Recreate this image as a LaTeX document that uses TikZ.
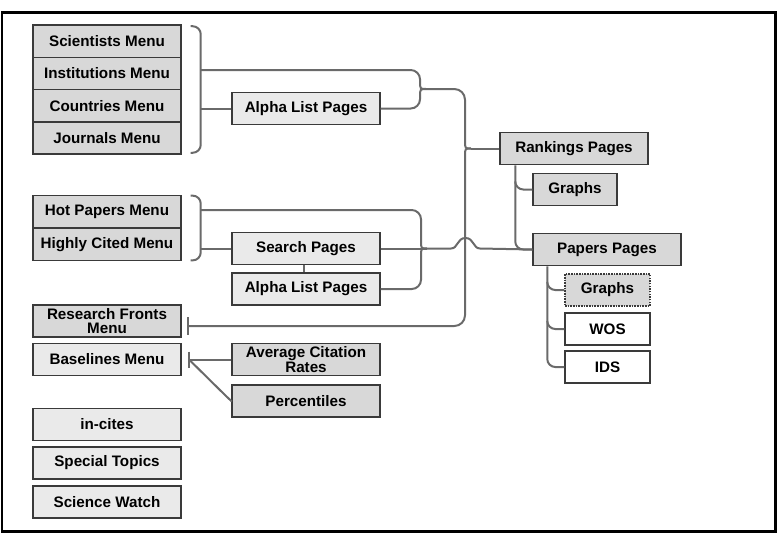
\documentclass[tikz,border=0pt]{standalone}
\usepackage{fontspec}
\setmainfont{Liberation Sans}
\usetikzlibrary{calc}
\definecolor{dfill}{HTML}{D8D8D8}
\definecolor{lfill}{HTML}{EAEAEA}
\definecolor{bline}{HTML}{3A3A3A}
\definecolor{cline}{HTML}{6A6A6A}
\begin{document}
\begin{tikzpicture}[x=0.75pt,y=-0.75pt,
 box/.style={draw=bline, line width=1.1pt, minimum width=111pt, minimum height=24.2pt, inner sep=1pt, font=\bfseries\fontsize{11.4}{10.8}\selectfont, align=center, text=black},
 dbox/.style={box, fill=dfill},
 lbox/.style={box, fill=lfill},
 wbox/.style={box, fill=white},
 conn/.style={draw=cline, line width=1.5pt},
 ]
\useasboundingbox (0,0) rectangle (778,540);
\draw[line width=2.2pt] (2,12.5) rectangle (775.5,531.5);

% left column
\node[dbox] (sci)  at (107,41.1)  {Scientists Menu};
\node[dbox] (inst) at (107,73.4)  {Institutions Menu};
\node[dbox] (coun) at (107,105.6) {Countries Menu};
\node[dbox] (jour) at (107,137.9) {Journals Menu};
\node[dbox] (hot)  at (107,211.5) {Hot Papers Menu};
\node[dbox] (high) at (107,244.5) {Highly Cited Menu};
\node[dbox] (res)  at (107,321)   {Research Fronts\\Menu};
\node[lbox] (base) at (107,359.5) {Baselines Menu};
\node[lbox] (inc)  at (107,424.5) {in-cites};
\node[lbox] (spec) at (107,463)   {Special Topics};
\node[lbox] (sw)   at (107,502)   {Science Watch};

% middle column
\node[lbox] (alpha1) at (306,108.5) {Alpha List Pages};
\node[lbox] (search) at (306,248.5) {Search Pages};
\node[lbox] (alpha2) at (306,289)   {Alpha List Pages};
\node[dbox] (avg)    at (306,359.5) {Average Citation\\Rates};
\node[dbox] (perc)   at (306,401)   {Percentiles};

% right column
\node[dbox] (rank)   at (574,148.5) {Rankings Pages};
\node[dbox, minimum width=63pt] (rgraph) at (575,189.5) {Graphs};
\node[dbox] (papers) at (607,249.5) {Papers Pages};
\node[dbox, minimum width=63.75pt, dash pattern=on 1.2pt off 0.8pt] (pgraph) at (607.5,290) {Graphs};
\node[wbox, minimum width=63.75pt] (wos) at (607.5,329) {WOS};
\node[wbox, minimum width=63.75pt] (ids) at (607.5,367) {IDS};

% brace A
\coordinate (bA1) at (200,70);
\coordinate (bA2) at (200,108.5);
\draw[conn, rounded corners=6] ($(sci.north east)+(9,2)$) -| ($(jour.south east)+(19,-2)$) -- ($(jour.south east)+(9,-2)$);
\draw[conn] (bA2) -- (alpha1.west);
\coordinate (jAt) at (420,81);
\coordinate (jA)  at (426,89);
\coordinate (jAb) at (420,97);
\draw[conn, rounded corners=7] (bA1) -| (jAt);
\draw[conn] (jAt) .. controls (420,89) .. (jA);
\draw[conn] (jA) .. controls (420,89) .. (jAb);
\draw[conn, rounded corners=7] (jAb) |- (alpha1.east);

% spine
\coordinate (s1) at (465,141);
\coordinate (s2) at (471,148.5);
\coordinate (s3) at (465,156);
\coordinate (resT) at (188,326);
\draw[conn, rounded corners=8] (jA) -| (s1);
\draw[conn] (s1) .. controls (465,148.5) .. (s2);
\draw[conn] (s2) .. controls (465,148.5) .. (s3);
\draw[conn] (s2) -- (rank.west);
\draw[conn, rounded corners=8] (s3) |- (resT);
\draw[conn] ($(resT)+(0,-9)$) -- ($(resT)+(0,9)$);

% brace B
\coordinate (bB1) at (200,210);
\coordinate (bB2) at (200,248.5);
\draw[conn, rounded corners=6] ($(hot.north east)+(9,1)$) -| ($(high.south east)+(19,-1)$) -- ($(high.south east)+(9,-1)$);
\draw[conn] (bB2) -- (search.west);
\coordinate (jBt) at (421,241);
\coordinate (jB)  at (427,248.5);
\coordinate (jBb) at (421,256);
\draw[conn, rounded corners=7] (bB1) -| (jBt);
\draw[conn] (jBt) .. controls (421,248.5) .. (jB);
\draw[conn] (jB) .. controls (421,248.5) .. (jBb);
\draw[conn, rounded corners=7] (jBb) |- (alpha2.east);
\draw[conn] (search.east) -- (jB);
\draw[conn] ($(search.south)+(-2,0)$) -- ($(alpha2.north)+(-2,0)$);

% hop to papers
\coordinate (h1) at (451,248.5);
\coordinate (h2) at (480,248.5);
\draw[conn] (jB) -- (h1) .. controls (458,248.5) and (457,238) .. (465.5,238) .. controls (474,238) and (473,248.5) .. (h2) -- (papers.west);

% rankings subtree
\draw[conn, rounded corners=6] ($(rank.south west)+(16,0)$) |- (papers.west);
\draw[conn, rounded corners=6] ($(rank.south west)+(16,18)$) |- (rgraph.west);

% papers subtree
\draw[conn, rounded corners=6] ($(papers.south west)+(15,0)$) |- (ids.west);
\draw[conn, rounded corners=6] ($(papers.south west)+(15,17)$) |- (pgraph.west);
\draw[conn, rounded corners=6] ($(papers.south west)+(15,55)$) |- (wos.west);

% baselines
\coordinate (bl) at (189,359.5);
\coordinate (bk) at (227,397);
\draw[conn] ($(bl)+(0,-8)$) -- ($(bl)+(0,8)$);
\draw[conn] (bl) -- (avg.west);
\draw[conn, rounded corners=5] (bl) -- (bk) -- (perc.west);
\end{tikzpicture}
\end{document}
